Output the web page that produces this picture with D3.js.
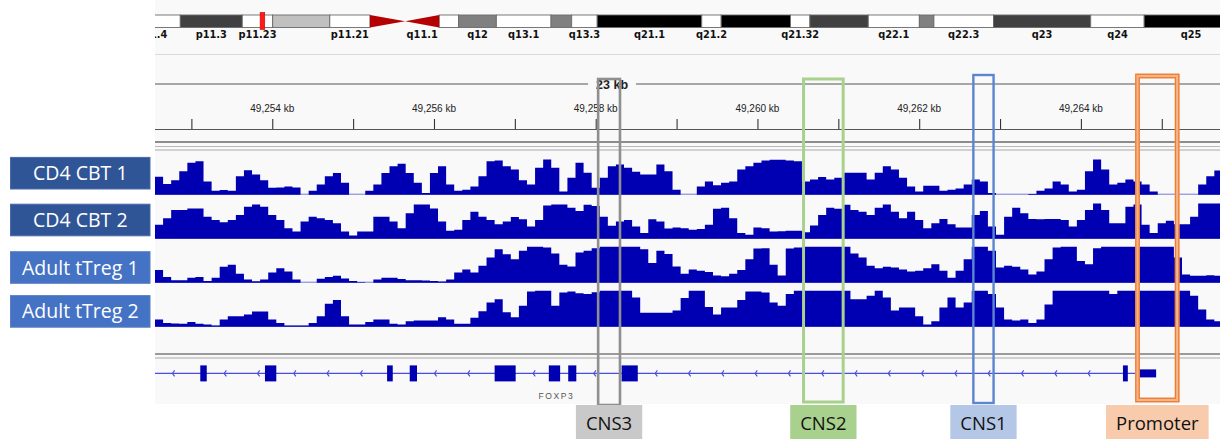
<!DOCTYPE html>
<html>
<head>
<meta charset="utf-8">
<script src="https://cdn.jsdelivr.net/npm/d3@7"></script>
<style>
  html, body { margin: 0; padding: 0; background: #ffffff; }
  svg { display: block; }
</style>
</head>
<body>
<svg id="chart" width="1220" height="439"></svg>
<script>
// ---------------- chromosome X cytobands (hg38, Mb) ----------------
const bandNames   = ["p11.4","p11.3","p11.23","p11.22","p11.21","p11.1","q11.1","q11.2","q12","q13.1","q13.2","q13.3","q21.1","q21.2","q21.31","q21.32","q21.33","q22.1","q22.2","q22.3","q23","q24","q25"];
const bandStartMb = [37.8, 42.5, 47.6, 50.1, 54.8, 58.1, 61.0, 63.8, 65.4, 68.5, 73.0, 74.7, 76.8, 85.4, 87.0, 92.7, 94.3, 99.1, 103.3, 104.5, 109.4, 117.4, 121.8];
const bandEndMb   = [42.5, 47.6, 50.1, 54.8, 58.1, 61.0, 63.8, 65.4, 68.5, 73.0, 74.7, 76.8, 85.4, 87.0, 92.7, 94.3, 99.1, 103.3, 104.5, 109.4, 117.4, 121.8, 129.5];
const bandStain   = ["gneg","gpos75","gneg","gpos25","gneg","acen","acen","gneg","gpos50","gneg","gpos50","gneg","gpos100","gneg","gpos100","gneg","gpos75","gneg","gpos50","gneg","gpos75","gneg","gpos100"];
const bandLabeled = [1,1,1,0,1,0,1,0,1,1,0,1,1,1,0,1,0,1,0,1,1,1,1];
const chromLengthMb = 156.040895;

// ---------------- ruler ----------------
const rulerTickKb  = [49253,49254,49255,49256,49257,49258,49259,49260,49261,49262,49263,49264,49265];
const rulerLabelKb = [49254,49256,49258,49260,49262,49264];
const rulerSpanText = "23 kb";

// ---------------- coverage tracks (0.1 kb bins from 49,252.55 kb) ----------------
const binStartKb = 49252.55;
const binSizeKb = 0.1;
const trackNames = ["CD4 CBT 1", "CD4 CBT 2", "Adult tTreg 1", "Adult tTreg 2"];

const cd4Cbt1 = [
  50,30,40,65,89,93,37,11,13,11,
  51,68,56,40,19,20,23,20,0,11,
  28,51,60,33,0,0,11,28,60,79,
  86,60,33,5,60,79,28,11,14,23,
  51,93,95,79,70,40,28,75,98,75,
  9,47,89,61,19,47,79,84,75,64,
  56,56,84,65,14,0,0,23,37,26,
  33,37,70,79,89,95,97,97,95,93,
  37,42,49,42,47,61,61,61,42,61,
  79,70,47,23,9,25,25,11,14,17,
  28,42,37,5,0,0,0,0,2,11,
  17,37,28,9,14,65,98,70,28,33,
  42,37,28,9,0,0,0,0,0,28,
  51,67];

const cd4Cbt2 = [
  39,57,80,80,84,84,61,52,46,52,
  66,89,95,89,66,52,29,20,48,61,
  57,52,43,20,9,20,20,61,61,48,
  29,71,95,95,84,48,22,25,52,75,
  61,52,40,48,60,54,34,52,92,95,
  95,86,77,94,91,61,36,48,52,34,
  16,54,48,28,31,29,25,27,39,83,
  86,57,16,11,31,29,20,21,22,22,
  18,37,66,86,83,94,80,75,66,86,
  95,75,57,75,52,29,43,55,40,31,
  31,66,77,34,11,61,86,71,55,54,
  55,55,52,34,52,80,98,80,43,43,
  89,95,39,16,43,50,40,40,61,98,
  98,98];

const adultTreg1 = [
  35,16,7,7,14,16,5,14,44,50,
  25,9,4,9,28,40,31,9,0,0,
  11,16,19,12,5,1,0,9,14,14,
  10,7,7,6,5,3,9,28,37,28,
  47,70,93,79,65,89,100,100,98,81,
  50,45,84,89,96,100,100,100,100,100,
  93,55,89,80,45,25,37,33,30,20,
  18,25,35,65,95,96,50,20,95,98,
  100,100,100,100,100,100,81,70,47,40,
  44,42,37,31,33,40,51,33,14,33,
  65,100,100,89,42,47,44,37,23,31,
  65,98,100,100,60,51,96,100,100,100,
  100,100,100,100,100,100,70,23,19,19,
  21,19];

const adultTreg2 = [
  20,10,9,8,13,8,6,3,20,29,
  29,34,42,42,20,10,3,3,3,10,
  29,64,74,29,6,6,13,20,20,8,
  6,15,17,17,17,26,20,8,8,25,
  43,67,76,40,26,58,98,100,100,58,
  95,98,93,91,96,100,100,100,100,81,
  39,39,39,39,45,80,100,100,55,34,
  53,53,74,98,98,95,67,58,91,100,
  100,100,100,100,100,100,76,76,86,100,
  81,45,53,53,29,6,15,53,81,53,
  67,100,100,91,53,20,17,20,10,20,
  62,100,100,100,100,100,100,100,91,100,
  100,100,100,100,100,100,100,100,86,48,
  20,15];

const trackSeries = [cd4Cbt1, cd4Cbt2, adultTreg1, adultTreg2];

// ---------------- FOXP3 gene model (kb) ----------------
const geneName = "FOXP3";
const geneStartKb = 49250.10;
const geneEndKb   = 49264.93;
const exonStartKb = [49253.11, 49253.91, 49255.42, 49255.70, 49256.75, 49257.42, 49257.66, 49258.32, 49264.52];
const exonEndKb   = [49253.19, 49254.05, 49255.49, 49255.79, 49257.01, 49257.56, 49257.76, 49258.52, 49264.58];
const utrStartKb  = [49264.70];
const utrEndKb    = [49264.93];

// ---------------- highlighted regulatory regions (kb) ----------------
const regionNames   = ["CNS3", "CNS2", "CNS1", "Promoter"];
const regionStartKb = [49258.03, 49260.57, 49262.67, 49264.70];
const regionEndKb   = [49258.30, 49261.06, 49262.92, 49265.19];

// ================= drawing =================
const svg = d3.select("#chart");
const panelL = 155, panelR = 1220;
const panelTop = 0, panelBottom = 404;

// data panel scale (kb -> px)
const x = d3.scaleLinear().domain([49252.55, 49265.72]).range([panelL, panelR]);
// ideogram scale spans the full browser panel (wider than the visible part)
const xChr = d3.scaleLinear().domain([0, chromLengthMb]).range([-336.3, 1560.4]);

const defs = svg.append("defs");
defs.append("clipPath").attr("id", "panelClip")
  .append("rect").attr("x", panelL).attr("y", 0).attr("width", panelR - panelL).attr("height", 439);

svg.append("rect").attr("x", panelL).attr("y", panelTop)
  .attr("width", panelR - panelL).attr("height", panelBottom - panelTop)
  .attr("fill", "#f9f9f9");

const panel = svg.append("g").attr("clip-path", "url(#panelClip)");

// ---------- ideogram ----------
const bands = bandNames.map((n, i) => ({
  name: n, s: bandStartMb[i], e: bandEndMb[i], stain: bandStain[i], labeled: bandLabeled[i]
}));
const stainFill = { gneg: "#ffffff", gpos25: "#c0c0c0", gpos50: "#808080", gpos75: "#404040", gpos100: "#000000" };
const ideoTop = 15, ideoBot = 27.5, ideoMid = (ideoTop + ideoBot) / 2;
const ideo = panel.append("g");

ideo.selectAll("rect.band")
  .data(bands.filter(b => b.stain !== "acen"))
  .join("rect")
  .attr("class", "band")
  .attr("x", d => xChr(d.s)).attr("y", ideoTop)
  .attr("width", d => xChr(d.e) - xChr(d.s)).attr("height", ideoBot - ideoTop)
  .attr("fill", d => stainFill[d.stain])
  .attr("stroke", "#6a6a6a").attr("stroke-width", 0.9);

const acen = bands.filter(b => b.stain === "acen");
ideo.selectAll("path.acen")
  .data(acen)
  .join("path")
  .attr("class", "acen")
  .attr("d", d => d.name.startsWith("p")
    ? `M${xChr(d.s)},${ideoTop}L${xChr(d.e)},${ideoMid}L${xChr(d.s)},${ideoBot}Z`
    : `M${xChr(d.s)},${ideoMid}L${xChr(d.e)},${ideoTop}L${xChr(d.e)},${ideoBot}Z`)
  .attr("fill", "#b40000");

ideo.selectAll("text.bandLabel")
  .data(bands.filter(b => b.labeled))
  .join("text")
  .attr("class", "bandLabel")
  .attr("x", d => xChr((d.s + d.e) / 2)).attr("y", 38)
  .attr("text-anchor", "middle")
  .attr("font-family", "DejaVu Sans, sans-serif").attr("font-weight", "bold")
  .attr("font-size", 9.8).attr("fill", "#111")
  .text(d => d.name);

// current-view marker at the centre of the full data panel
const markerMb = x.invert((xChr.range()[0] + xChr.range()[1]) / 2) / 1000;
ideo.append("rect")
  .attr("x", xChr(markerMb) - 2.3).attr("y", 12.5)
  .attr("width", 4.6).attr("height", 17)
  .attr("fill", "#ff1a1a").attr("stroke", "#d00000").attr("stroke-width", 0.6);

// separator under ideogram
panel.append("line").attr("x1", panelL).attr("x2", panelR).attr("y1", 54.5).attr("y2", 54.5)
  .attr("stroke", "#dadada").attr("stroke-width", 1);

// ---------- ruler ----------
const rulerG = panel.append("g");
const spanX = (xChr.range()[0] + xChr.range()[1]) / 2, spanY = 84;
const spanLabel = rulerG.append("text")
  .attr("x", spanX).attr("y", spanY + 4.5)
  .attr("text-anchor", "middle")
  .attr("font-family", "Liberation Sans, Arial, sans-serif").attr("font-weight", "bold")
  .attr("font-size", 12.5).attr("fill", "#222")
  .text(rulerSpanText);
const sw = spanLabel.node().getComputedTextLength();
rulerG.append("line").attr("x1", panelL).attr("x2", spanX - sw / 2 - 8)
  .attr("y1", spanY).attr("y2", spanY).attr("stroke", "#555").attr("stroke-width", 1);
rulerG.append("line").attr("x1", spanX + sw / 2 + 8).attr("x2", panelR)
  .attr("y1", spanY).attr("y2", spanY).attr("stroke", "#555").attr("stroke-width", 1);

const axisY = 129;
const axis = d3.axisTop(x).tickValues(rulerTickKb).tickSize(10).tickFormat("");
const axG = rulerG.append("g").attr("transform", `translate(0,${axisY})`).call(axis);
axG.select(".domain").remove();
axG.selectAll(".tick line").attr("stroke", "#333").attr("stroke-width", 1.1);
rulerG.append("line").attr("x1", panelL).attr("x2", panelR).attr("y1", axisY + 0.5).attr("y2", axisY + 0.5)
  .attr("stroke", "#555").attr("stroke-width", 1);

const kbFmt = d3.format(",");
rulerG.selectAll("text.tickLabel")
  .data(rulerLabelKb)
  .join("text")
  .attr("class", "tickLabel")
  .attr("x", d => x(d)).attr("y", 112)
  .attr("text-anchor", "middle")
  .attr("font-family", "Liberation Sans, Arial, sans-serif")
  .attr("font-size", 10).attr("fill", "#222")
  .text(d => kbFmt(d) + " kb");

// header / data separators
panel.append("line").attr("x1", panelL).attr("x2", panelR).attr("y1", 142).attr("y2", 142)
  .attr("stroke", "#8c8c8c").attr("stroke-width", 2);
panel.append("line").attr("x1", panelL).attr("x2", panelR).attr("y1", 146.5).attr("y2", 146.5)
  .attr("stroke", "#b8b8b8").attr("stroke-width", 1);
panel.append("line").attr("x1", panelL).attr("x2", panelR).attr("y1", 150).attr("y2", 150)
  .attr("stroke", "#a8a8a8").attr("stroke-width", 1);

// ---------- coverage tracks ----------
const baselines = [194.7, 238.7, 282.7, 326.7];
const trackH = 36;
trackSeries.forEach((vals, t) => {
  const y = d3.scaleLinear().domain([0, 100]).range([baselines[t], baselines[t] - trackH]);
  const pts = vals.map((v, i) => ({ kb: binStartKb + i * binSizeKb, v }));
  pts.push({ kb: binStartKb + vals.length * binSizeKb, v: vals[vals.length - 1] });
  const area = d3.area()
    .x(d => x(d.kb)).y0(baselines[t]).y1(d => y(d.v))
    .curve(d3.curveStepAfter);
  panel.append("line").attr("x1", panelL).attr("x2", panelR)
    .attr("y1", baselines[t] - 0.5).attr("y2", baselines[t] - 0.5)
    .attr("stroke", "#7777dd").attr("stroke-width", 1);
  panel.append("path").datum(pts).attr("d", area).attr("fill", "rgb(0,0,178)");
});

// separators above gene track
panel.append("line").attr("x1", panelL).attr("x2", panelR).attr("y1", 354).attr("y2", 354)
  .attr("stroke", "#9a9a9a").attr("stroke-width", 1.8);
panel.append("line").attr("x1", panelL).attr("x2", panelR).attr("y1", 358).attr("y2", 358)
  .attr("stroke", "#a8a8a8").attr("stroke-width", 1.2);

// ---------- gene track ----------
const geneY = 373.4;
const geneG = panel.append("g");
geneG.append("line")
  .attr("x1", x(geneStartKb)).attr("x2", x(geneEndKb))
  .attr("y1", geneY).attr("y2", geneY)
  .attr("stroke", "#4b4be6").attr("stroke-width", 1.3);

const exons = exonStartKb.map((s, i) => ({ s, e: exonEndKb[i] }));
const utrs = utrStartKb.map((s, i) => ({ s, e: utrEndKb[i] }));
// strand chevrons along intronic stretches (minus strand)
const blocks = exons.concat(utrs).sort((a, b) => a.s - b.s);
const chevrons = [];
let prevEnd = geneStartKb;
blocks.forEach(b => {
  const a0 = Math.max(x(prevEnd), panelL), a1 = x(b.s);
  for (let p = a0 + 18; p < a1 - 3; p += 33.3) chevrons.push(p);
  prevEnd = b.e;
});
geneG.selectAll("path.chev")
  .data(chevrons)
  .join("path")
  .attr("class", "chev")
  .attr("d", p => `M${p + 1.6},${geneY - 3}L${p - 0.6},${geneY}L${p + 1.6},${geneY + 3}`)
  .attr("fill", "none").attr("stroke", "#4b4be6").attr("stroke-width", 1.1);

geneG.selectAll("rect.exon")
  .data(exons)
  .join("rect")
  .attr("class", "exon")
  .attr("x", d => x(d.s)).attr("width", d => Math.max(1, x(d.e) - x(d.s)))
  .attr("y", geneY - 8).attr("height", 16)
  .attr("fill", "rgb(0,0,178)");
geneG.selectAll("rect.utr")
  .data(utrs)
  .join("rect")
  .attr("class", "utr")
  .attr("x", d => x(d.s)).attr("width", d => x(d.e) - x(d.s))
  .attr("y", geneY - 4).attr("height", 8)
  .attr("fill", "rgb(0,0,178)");

geneG.append("text")
  .attr("x", x((geneStartKb + geneEndKb) / 2)).attr("y", 399)
  .attr("text-anchor", "middle")
  .attr("font-family", "Liberation Sans, Arial, sans-serif")
  .attr("font-size", 8.5).attr("letter-spacing", 1.6).attr("fill", "#555")
  .text(geneName);

// ---------- region highlight boxes ----------
const regionStyle = [
  { stroke: "#8f8f8f", fill: "#c9c9c9", top: 79, bottom: 405, sw: 2.6, dbl: false },
  { stroke: "#a9d18e", fill: "#a9d18e", top: 79, bottom: 402, sw: 3.0, dbl: false },
  { stroke: "#5b86cf", fill: "#b4c7e7", top: 75, bottom: 403, sw: 2.4, dbl: false },
  { stroke: "#ed7d31", fill: "#f8cbad", top: 76, bottom: 400, sw: 1.3, dbl: true }
];
const regions = regionNames.map((n, i) => ({ name: n, s: regionStartKb[i], e: regionEndKb[i], st: regionStyle[i] }));

const regG = svg.append("g");
regions.forEach(r => {
  const x0 = x(r.s), x1 = x(r.e);
  if (r.st.dbl) {
    regG.append("rect").attr("x", x0).attr("y", r.st.top)
      .attr("width", x1 - x0).attr("height", r.st.bottom - r.st.top)
      .attr("fill", "none").attr("stroke", "#f6b48a").attr("stroke-width", 4.6);
    [-1.7, 1.7].forEach(o => {
      regG.append("rect").attr("x", x0 + o).attr("y", r.st.top + o)
        .attr("width", x1 - x0 - 2 * o).attr("height", r.st.bottom - r.st.top - 2 * o)
        .attr("fill", "none").attr("stroke", r.st.stroke).attr("stroke-width", r.st.sw);
    });
  } else {
    regG.append("rect").attr("x", x0).attr("y", r.st.top)
      .attr("width", x1 - x0).attr("height", r.st.bottom - r.st.top)
      .attr("fill", "none").attr("stroke", r.st.stroke).attr("stroke-width", r.st.sw);
  }
});

// region name boxes below the panel
const labelTop = 405, labelBottom = 439;
regions.forEach(r => {
  const cx = (x(r.s) + x(r.e)) / 2;
  const g = regG.append("g");
  const txt = g.append("text")
    .attr("x", cx).attr("y", labelTop + 24.5)
    .attr("text-anchor", "middle")
    .attr("font-family", "Open Sans, Lato, sans-serif")
    .attr("font-size", 18.5).attr("fill", "#111")
    .text(r.name);
  const tw = txt.node().getComputedTextLength();
  g.insert("rect", "text")
    .attr("x", cx - tw / 2 - 10).attr("y", labelTop)
    .attr("width", tw + 20).attr("height", labelBottom - labelTop)
    .attr("fill", r.st.fill);
});

// ---------- sample name boxes (left) ----------
const nameBoxCenters = [173.2, 220, 267.5, 311.4];
const nameBoxFill = ["#2f5597", "#2f5597", "#4472c4", "#4472c4"];
const nameBoxStroke = ["#4a6aa5", "#4a6aa5", "#5b7fc0", "#5b7fc0"];
const nameG = svg.append("g");
trackNames.forEach((n, i) => {
  const cy = nameBoxCenters[i];
  nameG.append("rect")
    .attr("x", 10.5).attr("y", cy - 15.8)
    .attr("width", 139.5).attr("height", 31.6)
    .attr("fill", nameBoxFill[i]).attr("stroke", nameBoxStroke[i]).attr("stroke-width", 1);
  nameG.append("text")
    .attr("x", 80.3).attr("y", cy + 7)
    .attr("text-anchor", "middle")
    .attr("font-family", "Open Sans, Lato, sans-serif")
    .attr("font-size", 19.5).attr("fill", "#ffffff")
    .text(n);
});
</script>
</body>
</html>
